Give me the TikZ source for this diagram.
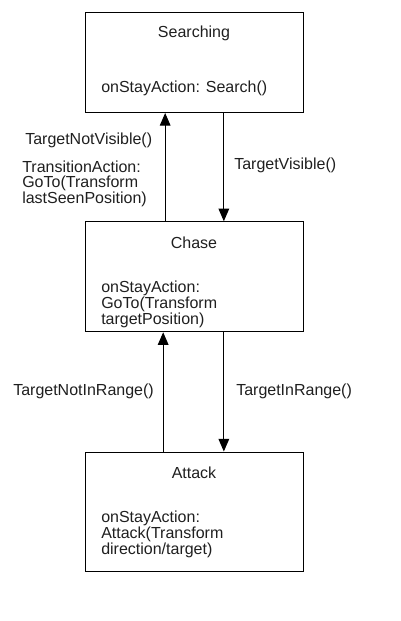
\documentclass[tikz,border=0pt]{standalone}
\usepackage{fontspec}
\setmainfont{Liberation Sans}
\usetikzlibrary{positioning, calc, arrows.meta}

\begin{document}
\begin{tikzpicture}[
  x=0.75pt, y=-0.75pt,
  font=\fontsize{12}{11}\selectfont,
  >={Triangle[length=9.5pt,width=8pt]},
  stateBox/.style={draw=black, line width=0.75pt, minimum width=163.5pt},
  stateText/.style={inner sep=0pt, align=left, text=black!88},
]
\useasboundingbox (0,0) rectangle (400,621);

% ---------- state boxes ----------
\node[stateBox, minimum height=75pt] (searchBox) at (194.5, 62.5) {};
\node[stateBox, minimum height=82.5pt] (chaseBox) at (194.5, 276.75) {};
\node[stateBox, minimum height=89.25pt] (attackBox) at (194.5, 511.5) {};

% ---------- box texts ----------
\node[stateText] (searchTitle) at (194, 33.5) {Searching};
\node[stateText, anchor=west] (searchBody) at (101, 88.5) {onStayAction: Search()};

\node[stateText] (chaseTitle) at (194, 243) {Chase};
\node[stateText, anchor=west] (chaseBody) at (101, 304.5)
  {onStayAction:\\GoTo(Transform\\targetPosition)};

\node[stateText] (attackTitle) at (194, 473) {Attack};
\node[stateText, anchor=west] (attackBody) at (101, 534.5)
  {onStayAction:\\Attack(Transform\\direction/target)};

% ---------- searching <-> chase ----------
\draw[black, line width=0.75pt, ->]
  ([xshift=-22pt]chaseBox.north) -- ([xshift=-22pt]searchBox.south);
\draw[black, line width=0.75pt, ->]
  ([xshift=22pt]searchBox.south) -- ([xshift=22pt]chaseBox.north);

\node[stateText, anchor=west] (notVisibleLbl) at (25, 140.5) {TargetNotVisible()};
\node[stateText, anchor=west] (transitionLbl) at (22, 184)
  {TransitionAction:\\GoTo(Transform\\lastSeenPosition)};
\node[stateText, anchor=west] (visibleLbl) at (234, 165.5) {TargetVisible()};

% ---------- chase <-> attack ----------
\draw[black, line width=0.75pt, ->]
  ([xshift=-23.5pt]attackBox.north) -- ([xshift=-23.5pt]chaseBox.south);
\draw[black, line width=0.75pt, ->]
  ([xshift=22pt]chaseBox.south) -- ([xshift=22pt]attackBox.north);

\node[stateText, anchor=west] (notInRangeLbl) at (13, 391.5) {TargetNotInRange()};
\node[stateText, anchor=west] (inRangeLbl) at (236, 391.5) {TargetInRange()};

\end{tikzpicture}
\end{document}
